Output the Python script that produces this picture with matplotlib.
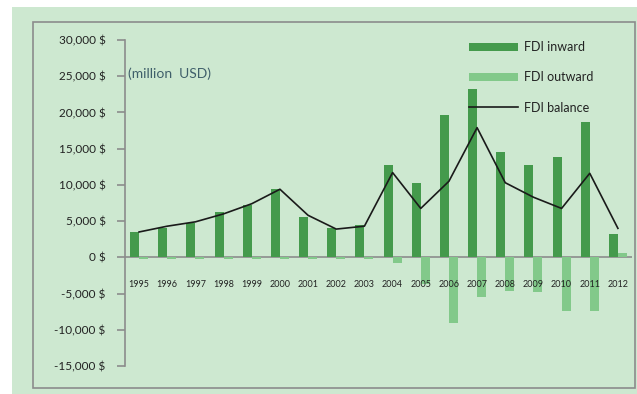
import matplotlib.pyplot as plt
from matplotlib.patches import Rectangle
from matplotlib.ticker import FuncFormatter
import numpy as np

years = [str(y) for y in range(1995, 2013)]
fdi_inward = [3500, 4100, 4800, 6200, 7200, 9500, 5500, 4000, 4400,
              12700, 10200, 19600, 23300, 14600, 12800, 13800, 18700, 3200]
fdi_outward = [-250, -250, -250, -250, -250, -250, -250, -250, -250,
               -800, -3700, -9000, -5500, -4600, -4800, -7400, -7400, 550]
fdi_balance = [3500, 4300, 4900, 6000, 7400, 9400, 5800, 3900, 4300,
               11700, 6750, 10500, 17900, 10300, 8300, 6750, 11600, 4000]

W, H = 637, 394
bg = "#cde8d0"
dark = "#449a4c"
light = "#82c98a"
grey = "#8c8c8c"

plt.rcParams['font.family'] = ['Lato', 'DejaVu Sans']
fig = plt.figure(figsize=(W / 100, H / 100), dpi=100)
fig.patch.set_facecolor("white")

# green background panel and its grey frame
fig.patches.append(Rectangle((12 / W, 0), 1, 1 - 7 / H, transform=fig.transFigure,
                             facecolor=bg, edgecolor="none", zorder=-2))
fig.patches.append(Rectangle((33 / W, 1 - 388 / H), (635 - 33) / W, (388 - 22) / H,
                             transform=fig.transFigure, facecolor="none",
                             edgecolor=grey, lw=1.2, zorder=-1))

ax = fig.add_axes([125 / W, 1 - 366 / H, (632 - 125) / W, (366 - 40) / H])
ax.set_facecolor("none")

x = np.arange(len(years))
w = 0.32
b1 = ax.bar(x - w / 2, fdi_inward, w, color=dark, label="FDI inward", zorder=2)
b2 = ax.bar(x + w / 2, fdi_outward, w, color=light, label="FDI outward", zorder=2)
l1, = ax.plot(x, fdi_balance, color="#1a1a1a", lw=1.2, label="FDI balance", zorder=3)

ax.set_xlim(-0.5, len(years) - 0.5)
ax.set_ylim(-15000, 30000)
ax.set_yticks(np.arange(-15000, 30001, 5000))
ax.yaxis.set_major_formatter(FuncFormatter(lambda v, p: f"{int(v):,} $"))
ax.axhline(0, color=grey, lw=1.2, zorder=1)

for s in ["top", "right", "bottom"]:
    ax.spines[s].set_visible(False)
ax.spines["left"].set_color(grey)
ax.spines["left"].set_linewidth(1.2)
ax.tick_params(axis="y", length=6, width=1.2, color=grey, labelsize=8.5,
               labelcolor="#222222", pad=8)

ax.set_xticks([])
for i, yr in enumerate(years):
    ax.text(i, -3800, yr, ha="center", va="center", fontsize=6.5, color="#222222")

ax.text(0.005, 25400, "(million  USD)", transform=ax.get_yaxis_transform(),
        fontsize=10, color="#3f5f6a", va="center")

ax.legend(handles=[b1, b2, l1], loc="upper left",
          bbox_to_anchor=(458 / W, 1 - 30 / H), bbox_transform=fig.transFigure,
          frameon=False, fontsize=9, handlelength=3.9, handleheight=0.7,
          labelspacing=1.45, handletextpad=0.5, labelcolor="#222222")

fig.savefig("out.png", dpi=100, facecolor=fig.get_facecolor())
